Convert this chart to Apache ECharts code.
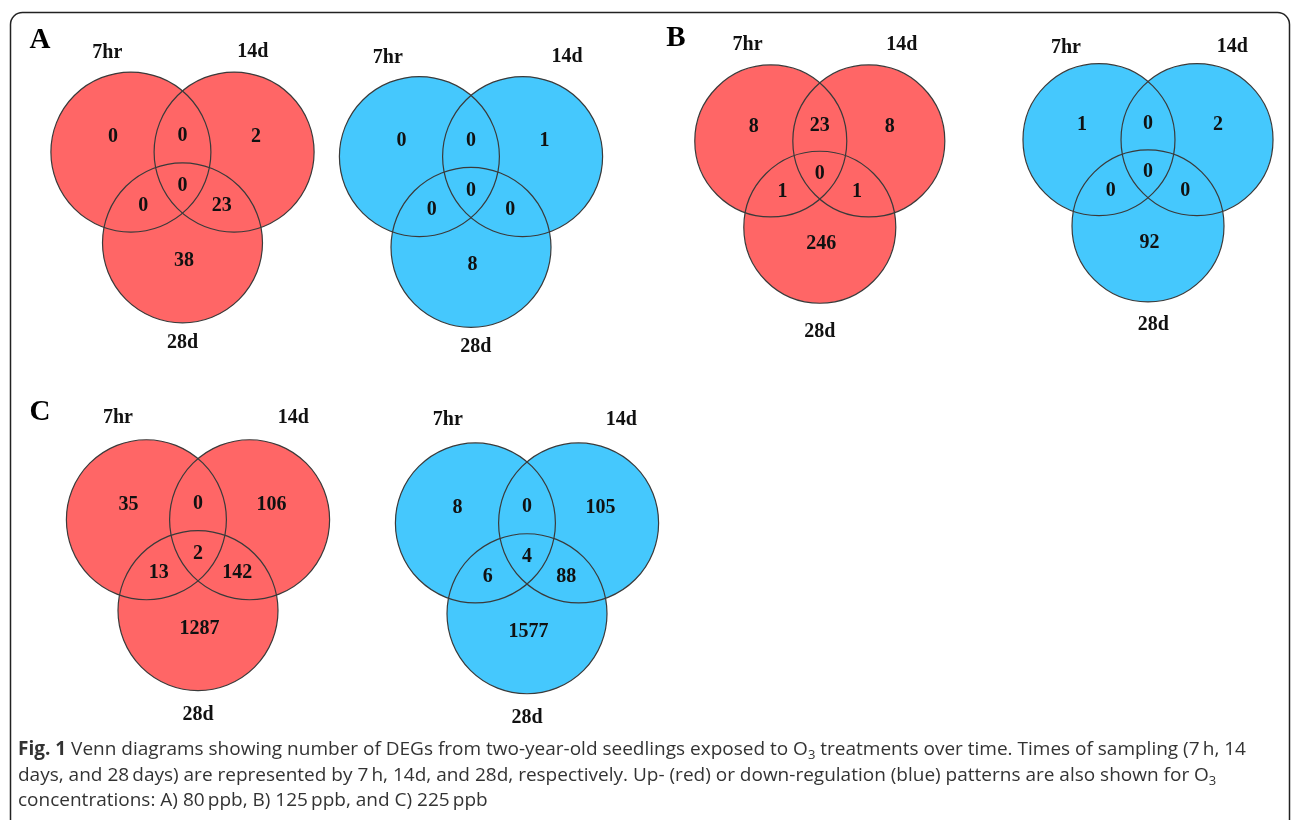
<!DOCTYPE html>
<html>
<head>
<meta charset="utf-8">
<script src="https://cdn.jsdelivr.net/npm/echarts@6/dist/echarts.min.js"></script>
<style>
  html, body { margin: 0; padding: 0; background: #ffffff; }
  #chart { width: 1292px; height: 820px; }
</style>
</head>
<body>
<div id="chart"></div>
<script>
// Set names (sampling times)
const setNames = ['7hr', '14d', '28d'];
const panelLetters = ['A', 'B', 'C'];

// DEG counts per region, in order:
// [7hr only, 7hr∩14d, 14d only, all three, 7hr∩28d, 14d∩28d, 28d only]
const countsA_up   = [0, 0, 2, 0, 0, 23, 38];
const countsA_down = [0, 0, 1, 0, 0, 0, 8];
const countsB_up   = [8, 23, 8, 0, 1, 1, 246];
const countsB_down = [1, 0, 2, 0, 0, 0, 92];
const countsC_up   = [35, 0, 106, 2, 13, 142, 1287];
const countsC_down = [8, 0, 105, 4, 6, 88, 1577];

const RED = '#FF6666';
const BLUE = '#45C8FD';
const STROKE = '#3a3a3a';
const SERIF = '"Liberation Serif", "Times New Roman", serif';

// Geometry of a three-set Venn in circle-radius units (centroid at origin)
const circleCenters = [[-0.645, 0.378], [0.645, 0.378], [0, -0.757]];
const regionAnchors = [
  [-0.87, 0.57], [0, 0.58], [0.92, 0.57],
  [0, -0.05],
  [-0.49, -0.29], [0.49, -0.29],
  [0.02, -0.98]
];

// Panel placement on the page (pixels) and set-name offsets (radius units)
const panels = [
  { counts: countsA_up,   color: RED,  cx: 182.5, cy: 182.3, r: 80, names: [[-0.94, 1.62], [0.88, 1.63], [0.0, -2.01]] },
  { counts: countsA_down, color: BLUE, cx: 471.0, cy: 186.8, r: 80, names: [[-1.04, 1.61], [1.20, 1.62], [0.06, -2.00]] },
  { counts: countsB_up,   color: RED,  cx: 819.8, cy: 169.7, r: 76, names: [[-0.95, 1.64], [1.08, 1.64], [0.0, -2.13]] },
  { counts: countsB_down, color: BLUE, cx: 1148., cy: 168.4, r: 76, names: [[-1.08, 1.59], [1.11, 1.60], [0.07, -2.06]] },
  { counts: countsC_up,   color: RED,  cx: 198.0, cy: 550.0, r: 80, names: [[-1.00, 1.65], [1.19, 1.65], [0.0, -2.06]] },
  { counts: countsC_down, color: BLUE, cx: 527.0, cy: 553.2, r: 80, names: [[-0.99, 1.67], [1.18, 1.67], [0.0, -2.06]] }
];

// each panel's grid covers [-SPAN, SPAN] radius units on both axes
const SPAN = 1.7;
const grids = [], xAxes = [], yAxes = [], series = [];

panels.forEach((p, i) => {
  const half = SPAN * p.r;
  grids.push({ left: p.cx - half, top: p.cy - half, width: 2 * half, height: 2 * half,
               containLabel: false, outerBoundsMode: 'none' });
  xAxes.push({ gridIndex: i, type: 'value', min: -SPAN, max: SPAN, show: false });
  yAxes.push({ gridIndex: i, type: 'value', min: -SPAN, max: SPAN, show: false });

  const circles = circleCenters.map(c => [c[0], c[1], 1]);

  // circle fills (uniform, opaque)
  series.push({
    type: 'custom', xAxisIndex: i, yAxisIndex: i, data: circles, silent: true, z: 1, clip: false,
    renderItem: (params, api) => {
      const c = api.coord([api.value(0), api.value(1)]);
      const rr = api.size([api.value(2), 0])[0];
      return { type: 'circle', shape: { cx: c[0], cy: c[1], r: rr }, style: { fill: p.color, stroke: null } };
    }
  });
  // circle outlines on top of all fills
  series.push({
    type: 'custom', xAxisIndex: i, yAxisIndex: i, data: circles, silent: true, z: 2, clip: false,
    renderItem: (params, api) => {
      const c = api.coord([api.value(0), api.value(1)]);
      const rr = api.size([api.value(2), 0])[0];
      return { type: 'circle', shape: { cx: c[0], cy: c[1], r: rr }, style: { fill: null, stroke: STROKE, lineWidth: 1.2 } };
    }
  });
  // region counts
  series.push({
    type: 'custom', xAxisIndex: i, yAxisIndex: i, silent: true, z: 3, clip: false,
    data: p.counts.map((v, k) => [regionAnchors[k][0], regionAnchors[k][1], v]),
    renderItem: (params, api) => {
      const c = api.coord([api.value(0), api.value(1)]);
      return { type: 'text', x: c[0], y: c[1], style: {
        text: String(api.value(2)), font: 'bold 20px ' + SERIF, fill: '#111',
        align: 'center', verticalAlign: 'middle' } };
    }
  });
  // set names
  series.push({
    type: 'custom', xAxisIndex: i, yAxisIndex: i, silent: true, z: 3, clip: false,
    data: setNames.map((n, k) => [p.names[k][0], p.names[k][1], k]),
    renderItem: (params, api) => {
      const c = api.coord([api.value(0), api.value(1)]);
      return { type: 'text', x: c[0], y: c[1], style: {
        text: setNames[api.value(2)], font: 'bold 20px ' + SERIF, fill: '#111',
        align: 'center', verticalAlign: 'middle' } };
    }
  });
});

const CAP_FONT = '"Open Sans", sans-serif';
const captionRich = {
  b: { fontFamily: CAP_FONT, fontWeight: 'bold', fontSize: 19, fill: '#333' },
  sub: { fontFamily: CAP_FONT, fontSize: 13, fill: '#333', padding: [10, 0, 0, 0] }
};
const captionLines = [
  '{b|Fig. 1} Venn diagrams showing number of DEGs from two-year-old seedlings exposed to O{sub|3} treatments over time. Times of sampling (7\u2009h, 14',
  'days, and 28\u2009days) are represented by 7\u2009h, 14d, and 28d, respectively. Up- (red) or down-regulation (blue) patterns are also shown for O{sub|3}',
  'concentrations: A) 80\u2009ppb, B) 125\u2009ppb, and C) 225\u2009ppb'
];
const captionY = [750, 776, 801];

const graphic = [
  { type: 'rect', shape: { x: 10.5, y: 12.5, width: 1279, height: 840, r: 12 },
    style: { fill: null, stroke: '#222', lineWidth: 1.5 }, z: 0 },
  { type: 'text', x: 40, y: 41, style: { text: panelLetters[0], font: 'bold 29px ' + SERIF, fill: '#000', align: 'center', verticalAlign: 'middle' } },
  { type: 'text', x: 676, y: 39, style: { text: panelLetters[1], font: 'bold 29px ' + SERIF, fill: '#000', align: 'center', verticalAlign: 'middle' } },
  { type: 'text', x: 40, y: 413, style: { text: panelLetters[2], font: 'bold 29px ' + SERIF, fill: '#000', align: 'center', verticalAlign: 'middle' } }
];
captionLines.forEach((t, k) => {
  graphic.push({ type: 'text', x: 18, y: captionY[k], style: {
    text: t, fontFamily: CAP_FONT, fontSize: 19, fill: '#333',
    align: 'left', verticalAlign: 'middle', rich: captionRich } });
});

const chart = echarts.init(document.getElementById('chart'), null, { renderer: 'canvas' });
chart.setOption({
  animation: false,
  backgroundColor: '#ffffff',
  grid: grids,
  xAxis: xAxes,
  yAxis: yAxes,
  series: series,
  graphic: graphic
});
</script>
</body>
</html>
